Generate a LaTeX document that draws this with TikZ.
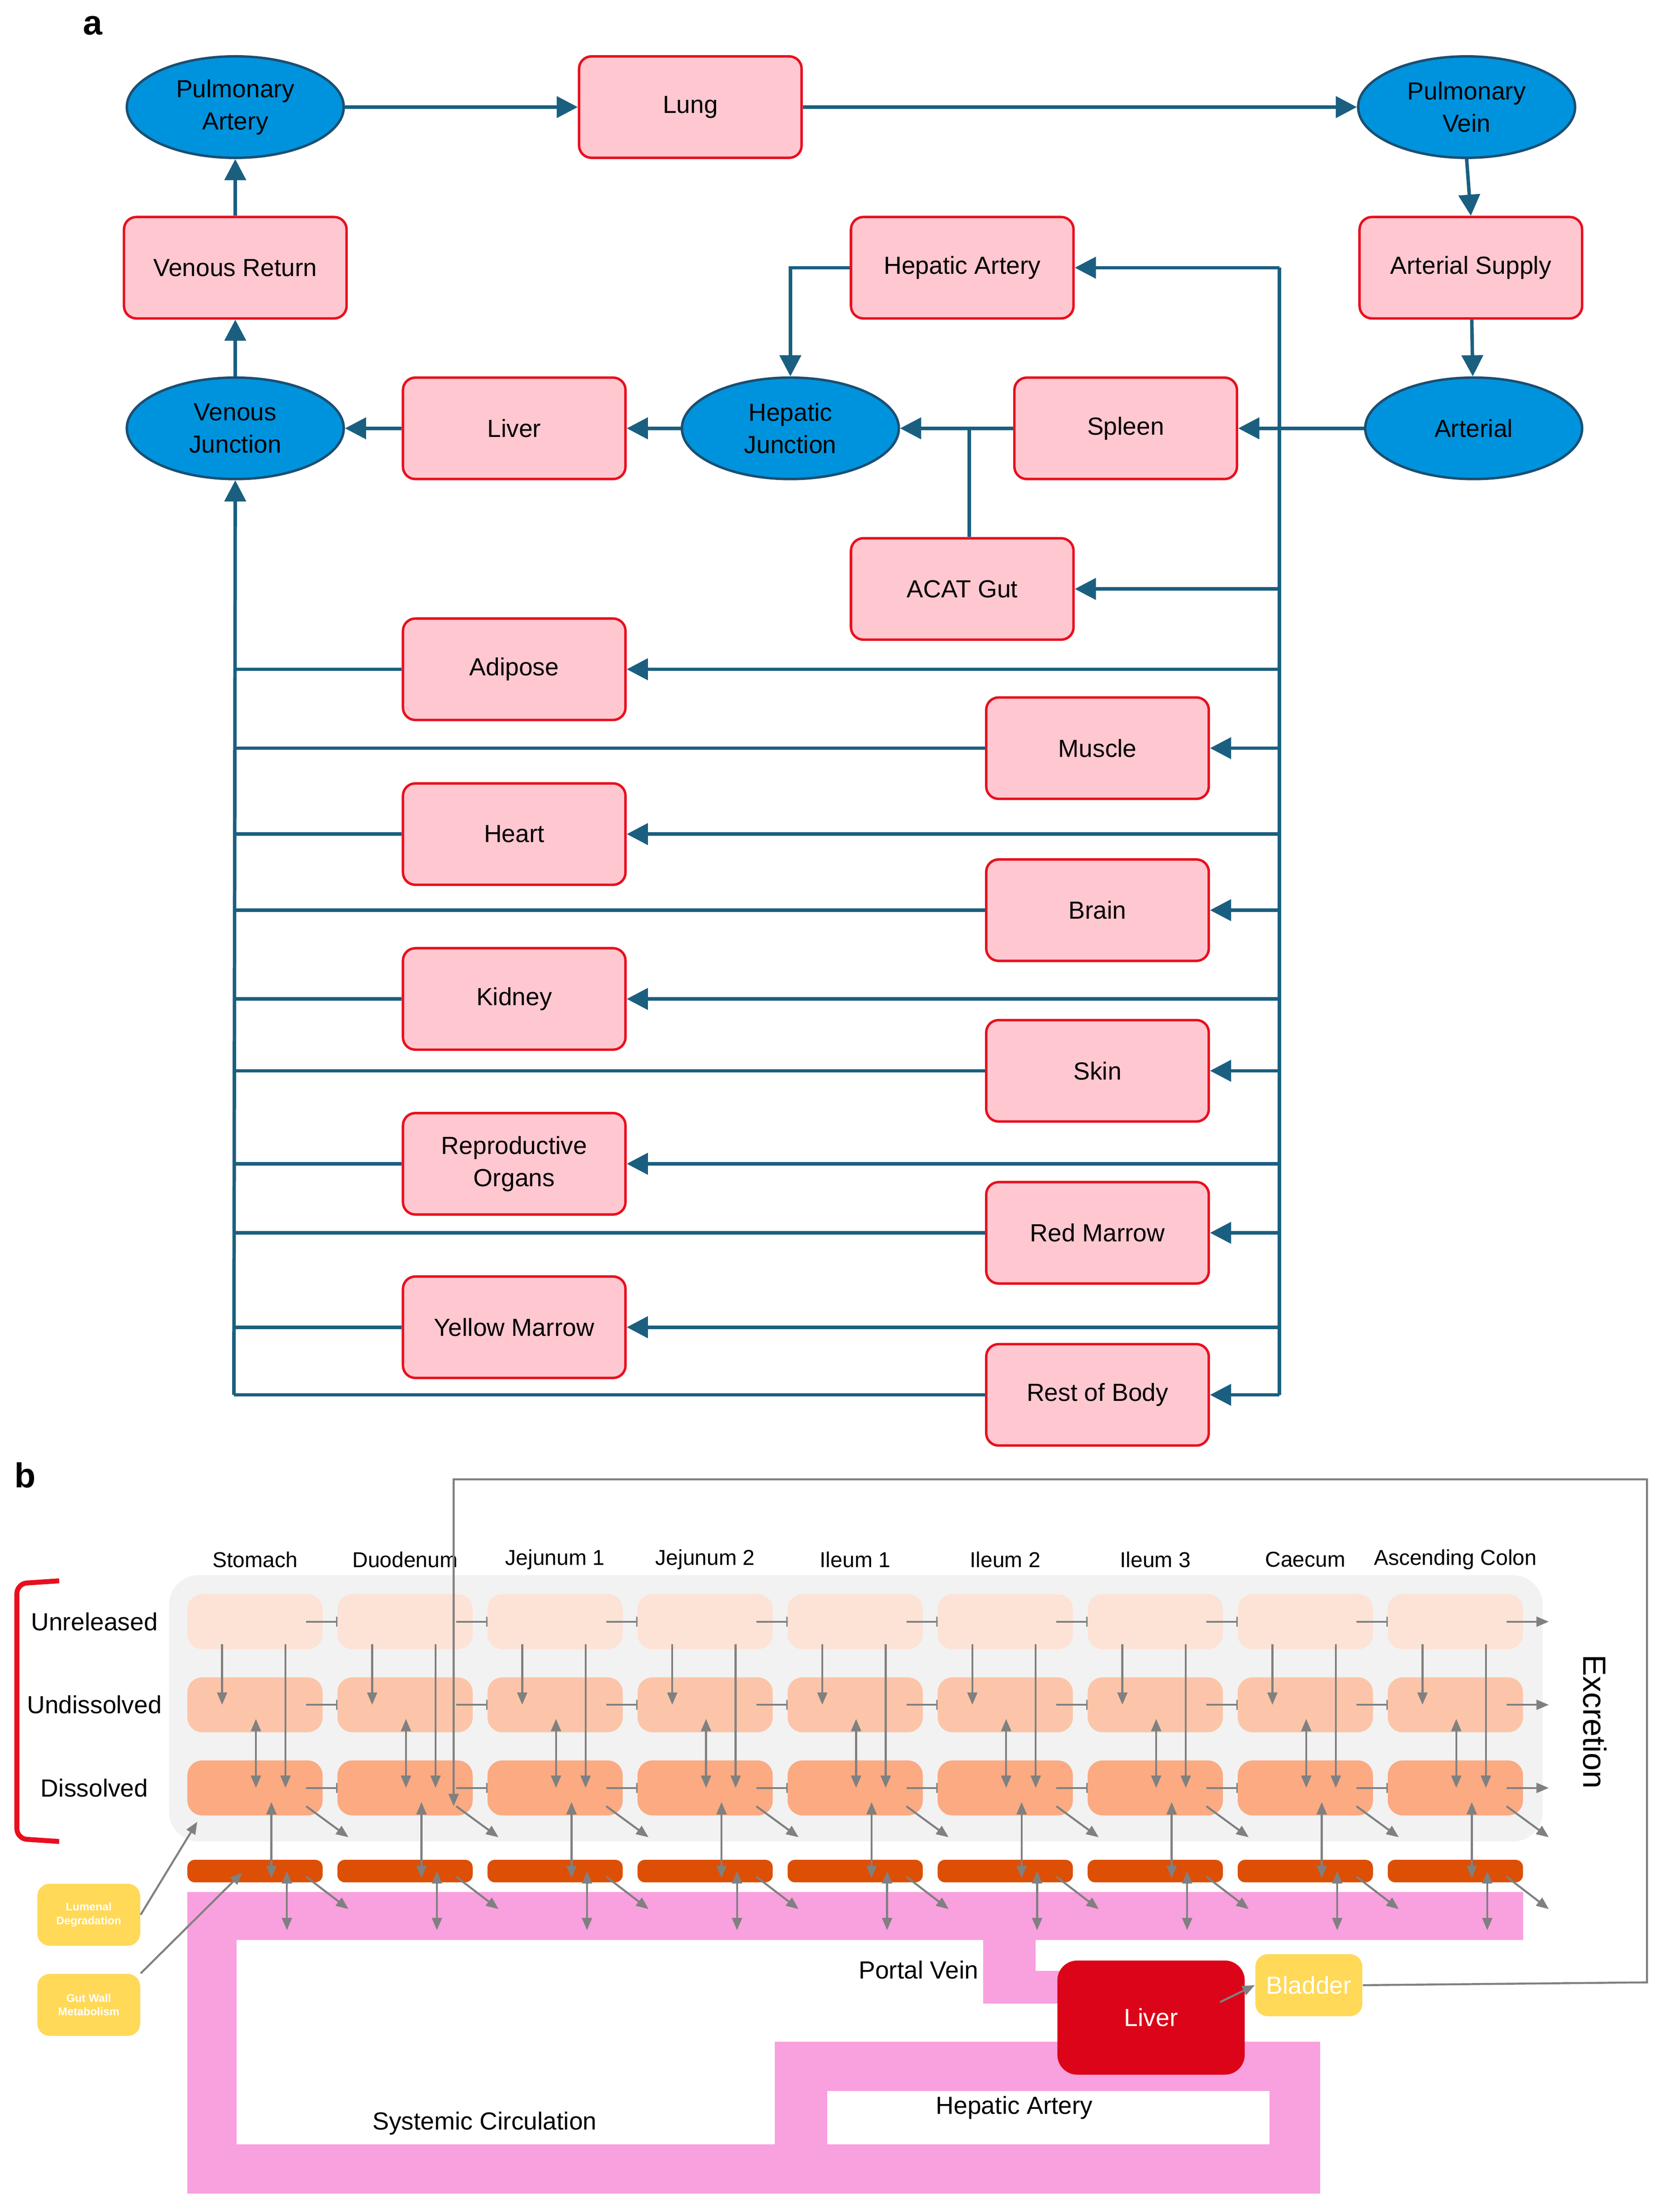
\documentclass[tikz,border=0pt]{standalone}
\usepackage{fontspec}
\setmainfont{Liberation Sans}
\usepackage{tikz}
\usetikzlibrary{positioning}
\usetikzlibrary{shapes.geometric}
\usetikzlibrary{arrows.meta}

\definecolor{orgfill}{HTML}{FFC7D0}
\definecolor{orgline}{HTML}{E8101E}
\definecolor{poolfill}{HTML}{0093DD}
\definecolor{poolline}{HTML}{1B4F72}
\definecolor{flowcol}{HTML}{1A5F80}
\definecolor{unrel}{HTML}{FDE2D6}
\definecolor{undis}{HTML}{FCC5A9}
\definecolor{disso}{HTML}{FBAA82}
\definecolor{wallc}{HTML}{DD4F05}
\definecolor{bloodc}{HTML}{F9A0DF}
\definecolor{liverc}{HTML}{DC0418}
\definecolor{yellc}{HTML}{FFD957}
\definecolor{greyc}{HTML}{808080}

\begin{document}
\begin{tikzpicture}[x=0.02cm, y=-0.02cm, font=\fontsize{10}{13}\selectfont,
	organ/.style={rectangle, rounded corners=5pt, draw=orgline, fill=orgfill, line width=1pt, minimum width=3.16cm, minimum height=1.44cm, align=center},
	pool/.style={ellipse, draw=poolline, fill=poolfill, line width=1pt, minimum width=3.08cm, minimum height=1.44cm, align=center},
	flow/.style={draw=flowcol, line width=1.4pt, -{Triangle[length=0.3cm, width=0.3cm]}},
	pipe/.style={draw=flowcol, line width=1.4pt},
	seg/.style={rectangle, rounded corners=6pt, minimum width=1.92cm, minimum height=0.78cm},
	gflow/.style={draw=greyc, line width=0.8pt, -{Triangle[length=5pt, width=4pt]}},
	gboth/.style={draw=greyc, line width=0.8pt, {Triangle[length=5pt, width=4pt]}-{Triangle[length=5pt, width=4pt]}},
	tag/.style={rectangle, rounded corners=5pt, fill=yellc, text=white, align=center, font=\bfseries\fontsize{4.5}{5.5}\selectfont, minimum width=1.46cm, minimum height=0.88cm}]
	\useasboundingbox (0,0) rectangle (1183,1570);

	% part a
	\node [font=\bfseries\fontsize{14}{16}\selectfont] (la) at (66,18) {a};
	\node [pool] (pa) at (167,76) {Pulmonary\\Artery};
	\node [organ] (lung) at (490,76) {Lung};
	\node [pool] (pv) at (1041,76) {Pulmonary\\Vein};
	\node [organ] (vr) at (167,190) {Venous Return};
	\node [organ] (ha) at (683,190) {Hepatic Artery};
	\node [organ] (as) at (1044,190) {Arterial Supply};
	\node [pool] (vj) at (167,304) {Venous\\Junction};
	\node [organ] (liv) at (365,304) {Liver};
	\node [pool] (hj) at (561,304) {Hepatic\\Junction};
	\node [organ] (spl) at (799,304) {Spleen};
	\node [pool] (art) at (1046,304) {Arterial};
	\node [organ] (gut) at (683,418) {ACAT Gut};
	\node [organ] (adi) at (365,475) {Adipose};
	\node [organ] (mus) at (779,531) {Muscle};
	\node [organ] (hrt) at (365,592) {Heart};
	\node [organ] (brn) at (779,646) {Brain};
	\node [organ] (kid) at (365,709) {Kidney};
	\node [organ] (skn) at (779,760) {Skin};
	\node [organ] (rep) at (365,826) {Reproductive\\Organs};
	\node [organ] (rmw) at (779,875) {Red Marrow};
	\node [organ] (ymw) at (365,942) {Yellow Marrow};
	\node [organ] (rob) at (779,990) {Rest of Body};
	\coordinate (rtop) at (908,190);
	\coordinate (rbot) at (908,990);
	\coordinate (lbot) at (166,990);

	\draw[flow] (pa) -- (lung);
	\draw[flow] (lung) -- (pv);
	\draw[flow] (pv.south) -- (as.north);
	\draw[flow] (as) -- (art);
	\draw[flow] (art) -- (spl);
	\draw[flow] (spl) -- (hj);
	\draw[pipe] (gut.north -| 688,0) -- (688,304);
	\draw[flow] (ha.west) -| (hj.north);
	\draw[flow] (hj) -- (liv);
	\draw[flow] (liv) -- (vj);
	\draw[flow] (vj) -- (vr);
	\draw[flow] (vr) -- (pa);
	\draw[pipe] (rtop) -- (rbot);
	\draw[flow] (rtop) -- (ha);
	\foreach \o in {gut, adi, mus, hrt, brn, kid, skn, rep, rmw, ymw, rob}
		\draw[flow] (rtop |- \o.east) -- (\o.east);
	\foreach \o in {adi, mus, hrt, brn, kid, skn, rep, rmw, ymw, rob}
		\draw[pipe] (\o.west) -- (lbot |- \o.west);
	\draw[flow] (lbot) -- (vj.south);

	% part b
	\node [font=\bfseries\fontsize{14}{16}\selectfont] (lb) at (18,1047) {b};
	\fill[black!5, rounded corners=12pt] (120,1118) rectangle (1095,1307);
	\draw[orgline, line width=2pt, rounded corners=4pt] (42,1122) -- (12,1124) -- (12,1305) -- (42,1307);
	\node (rowu) at (67,1151) {Unreleased};
	\node (rowd) at (67,1210) {Undissolved};
	\node (rows) at (67,1269) {Dissolved};
	\fill[bloodc] (133,1343) rectangle (1081,1377);
	\fill[bloodc] (133,1343) rectangle (168,1557);
	\fill[bloodc] (133,1522) rectangle (930,1557);
	\fill[bloodc] (550,1449) rectangle (937,1557);
	\fill[white] (587,1484) rectangle (901,1522);
	\fill[bloodc] (698,1377) rectangle (735,1422);
	\fill[bloodc] (698,1399) rectangle (760,1422);
	\foreach \n [count=\i from 0] in {Stomach, Duodenum, Jejunum 1, Jejunum 2, Ileum 1, Ileum 2, Ileum 3, Caecum, Ascending Colon} {
		\pgfmathsetmacro\x{181+106.5*\i}
		\node [font=\fontsize{8.7}{10}\selectfont] (n\i) at (\x,1107) {\n};
		\node [seg, fill=unrel] (un\i) at (\x,1151) {};
		\node [seg, fill=undis] (ud\i) at (\x,1210) {};
		\node [seg, fill=disso] (ds\i) at (\x,1269) {};
		\node [seg, fill=wallc, minimum height=0.32cm, rounded corners=3pt] (ew\i) at (\x,1328) {};
		\draw[gflow] ([xshift=0.5cm, yshift=0.08cm]un\i.south west) -- ([xshift=0.5cm]ud\i.west);
		\draw[gflow] ([xshift=1.4cm, yshift=0.08cm]un\i.south west) -- ([xshift=1.4cm]ds\i.west);
		\draw[gboth] ([xshift=0.98cm, yshift=-0.2cm]ud\i.west) -- ([xshift=0.98cm]ds\i.west);
		\draw[gboth] ([xshift=1.2cm, yshift=-0.2cm]ds\i.west) -- ([xshift=1.2cm, yshift=-0.1cm]ew\i.west);
		\draw[gboth] ([xshift=1.42cm]ew\i.west) -- ([xshift=1.42cm, yshift=-0.84cm]ew\i.west);
		\foreach \r in {un, ud, ds}
			\draw[gflow] ([xshift=-0.24cm]\r\i.east) -- ++(0.6cm,0);
		\draw[gflow] ([xshift=-0.24cm, yshift=-0.26cm]ds\i.east) -- ++(0.6cm,-0.44cm);
		\draw[gflow] ([xshift=-0.24cm, yshift=-0.08cm]ew\i.east) -- ++(0.6cm,-0.46cm);
	}
	\node [rotate=-90, font=\fontsize{13}{15}\selectfont] (exc) at (1132,1222) {Excretion};
	\node [tag] (lum) at (63,1359) {Lumenal\\Degradation};
	\node [tag] (gwm) at (63,1423) {Gut Wall\\Metabolism};
	\node [rectangle, rounded corners=8pt, fill=liverc, text=white, minimum width=2.66cm, minimum height=1.62cm] (lvr) at (817,1432) {Liver};
	\node [rectangle, rounded corners=5pt, fill=yellc, text=white, minimum width=1.52cm, minimum height=0.88cm] (bld) at (929,1409) {Bladder};
	\node (pvn) at (652,1398) {Portal Vein};
	\node (sys) at (344,1507) {Systemic Circulation};
	\node (hart) at (720,1496) {Hepatic Artery};
	\coordinate (ex1) at (1169,1407);
	\coordinate (ex2) at (1169,1050);
	\coordinate (ex3) at (322,1050);
	\draw[gflow] (bld.east) -- (ex1) -- (ex2) -- (ex3) -- (ex3 |- 0,1282);
	\draw[gflow] (lum.east) -- (140,1293);
	\draw[gflow] (gwm.north east) -- (172,1329);
	\draw[gflow] (866,1421) -- (bld.west);
\end{tikzpicture}
\end{document}
